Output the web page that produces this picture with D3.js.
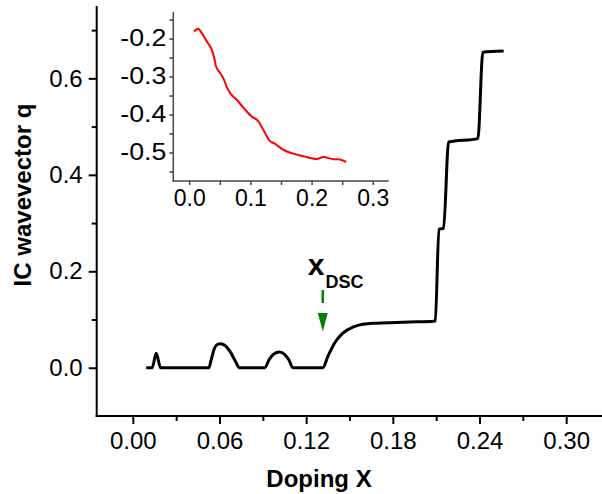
<!DOCTYPE html>
<html><head><meta charset="utf-8">
<script src="https://cdn.jsdelivr.net/npm/d3@7"></script>
<style>body{margin:0;background:#fff}svg{display:block}text{font-family:"Liberation Sans",Arial,Helvetica,sans-serif}</style>
</head><body><svg id="c" width="602" height="494"></svg>
<script>
// main curve: doping X vs IC wavevector q
const mainX = [0.0093,0.0134,0.0162,0.0192,0.0526,0.0543,0.0566,0.0589,0.0607,0.0628,0.0647,0.0681,0.0711,0.0739,0.0912,0.0946,0.0974,0.1016,0.105,0.108,0.1108,0.1315,0.135,0.1396,0.1454,0.1523,0.1592,0.1685,0.1824,0.1962,0.2082,0.2094,0.2119,0.2151,0.2186,0.2389,0.2423,0.2567];
const mainQ = [0,0,0.030,0,0,0.017,0.041,0.049,0.050,0.048,0.044,0.030,0.013,0,0,0.018,0.028,0.0325,0.028,0.0166,0,0,0.0234,0.051,0.0718,0.0842,0.0904,0.0925,0.0938,0.0952,0.0965,0.0972,0.287,0.289,0.468,0.475,0.654,0.6566];
// inset curve
const insetX = [0.0077,0.0147,0.0203,0.0285,0.0367,0.041,0.0437,0.0502,0.0568,0.0612,0.0666,0.0776,0.0912,0.102,0.113,0.121,0.131,0.140,0.154,0.170,0.187,0.2085,0.219,0.2357,0.244,0.2565];
const insetV = [-0.1815,-0.174,-0.185,-0.207,-0.229,-0.251,-0.273,-0.29,-0.308,-0.327,-0.343,-0.361,-0.387,-0.405,-0.418,-0.44,-0.468,-0.477,-0.493,-0.503,-0.51,-0.517,-0.512,-0.5175,-0.518,-0.525];
const xMajor = [0,0.06,0.12,0.18,0.24,0.30];
const xMinor = [0.03,0.09,0.15,0.21,0.27];
const yMajor = [0,0.2,0.4,0.6];
const yMinor = [0.1,0.3,0.5,0.7];
const ixMajor = [0,0.1,0.2,0.3];
const ixMinor = [0.05,0.15,0.25];
const iyMajor = [-0.2,-0.3,-0.4,-0.5];
const iyMinor = [-0.15,-0.25,-0.35,-0.45,-0.55];
const xDSC = 0.1315;

const svg = d3.select("#c");
const x = d3.scaleLinear().domain([-0.025,0.325]).range([96.7,602.3]);
const y = d3.scaleLinear().domain([-0.1,0.75]).range([416,6]);

function axisG(scale, orient, ticks, len, fmt, fs, pad, sw, col){
  const a = (orient==="b"?d3.axisBottom(scale):d3.axisLeft(scale))
     .tickValues(ticks).tickSize(len).tickPadding(pad).tickFormat(fmt||"");
  return g => { g.call(a); g.select(".domain").remove();
    g.selectAll("line").attr("stroke",col).attr("stroke-width",sw);
    g.selectAll("text").attr("font-size",fs).attr("fill","#000").style("font-family",'"Liberation Sans",Arial,sans-serif');};
}
const f1 = d => d.toFixed(1), f2 = d => d.toFixed(2);
// main axes
const gx = svg.append("g").attr("transform","translate(0,416)");
gx.call(axisG(x,"b",xMajor,8,f2,24,8,2,"#000"));
gx.append("g").call(axisG(x,"b",xMinor,5,null,24,0,2,"#000"));
const gy = svg.append("g").attr("transform","translate(96.7,0)");
gy.call(axisG(y,"l",yMajor,8,f1,24,6,2,"#000"));
gy.append("g").call(axisG(y,"l",yMinor,5,null,24,0,2,"#000"));
svg.append("line").attr("x1",96.7).attr("x2",96.7).attr("y1",6).attr("y2",417).attr("stroke","#000").attr("stroke-width",2);
svg.append("line").attr("x1",95.7).attr("x2",602).attr("y1",416).attr("y2",416).attr("stroke","#000").attr("stroke-width",2);

// main curve
const mainData = mainX.map((v,i)=>[v,mainQ[i]]);
svg.append("path").datum(mainData)
  .attr("d", d3.line().x(d=>x(d[0])).y(d=>y(d[1])).curve(d3.curveMonotoneX))
  .attr("fill","none").attr("stroke","#000").attr("stroke-width",3).attr("stroke-linejoin","round");

// titles
svg.append("text").attr("x",319).attr("y",487).attr("text-anchor","middle")
  .attr("font-size",24).attr("font-weight","bold").text("Doping X");
svg.append("text").attr("transform","translate(31,195) rotate(-90)").attr("text-anchor","middle")
  .attr("font-size",24).attr("font-weight","bold").text("IC wavevector q");

// x_DSC annotation
const ax = x(xDSC);
const lab = svg.append("text").attr("x",ax-15).attr("y",275).attr("font-weight","bold");
lab.append("tspan").attr("font-size",30).text("x");
lab.append("tspan").attr("font-size",18).attr("dy",13).attr("dx",1).text("DSC");
svg.append("line").attr("x1",ax).attr("x2",ax).attr("y1",290).attr("y2",303).attr("stroke","#008000").attr("stroke-width",2.5);
svg.append("path").attr("d",`M${ax-5},313 L${ax+5},313 L${ax},331.5 Z`).attr("fill","#008000");

// inset
const ix = d3.scaleLinear().domain([-0.026,0.326]).range([173.3,388.7]);
const iy = d3.scaleLinear().domain([-0.575,-0.13]).range([181,12]);
const gix = svg.append("g").attr("transform","translate(0,181)");
gix.call(axisG(ix,"b",ixMajor,4,f1,23,5,1.5,"#444"));
gix.append("g").call(axisG(ix,"b",ixMinor,4,null,23,0,1.5,"#444"));
const giy = svg.append("g").attr("transform","translate(173.3,0)");
giy.call(axisG(iy,"l",iyMajor,4,f1,23,3,1.5,"#444"));
giy.selectAll(".tick text").attr("textLength",46).attr("lengthAdjust","spacingAndGlyphs");
giy.append("g").call(axisG(iy,"l",iyMinor,4,null,23,0,1.5,"#444"));
svg.append("line").attr("x1",173.3).attr("x2",173.3).attr("y1",12).attr("y2",181.7).attr("stroke","#444").attr("stroke-width",1.5);
svg.append("line").attr("x1",172.6).attr("x2",388.7).attr("y1",181).attr("y2",181).attr("stroke","#444").attr("stroke-width",1.5);
const insetData = insetX.map((v,i)=>[v,insetV[i]]);
svg.append("path").datum(insetData)
  .attr("d", d3.line().x(d=>ix(d[0])).y(d=>iy(d[1])).curve(d3.curveMonotoneX))
  .attr("fill","none").attr("stroke","#ff0000").attr("stroke-width",2);
</script></body></html>
